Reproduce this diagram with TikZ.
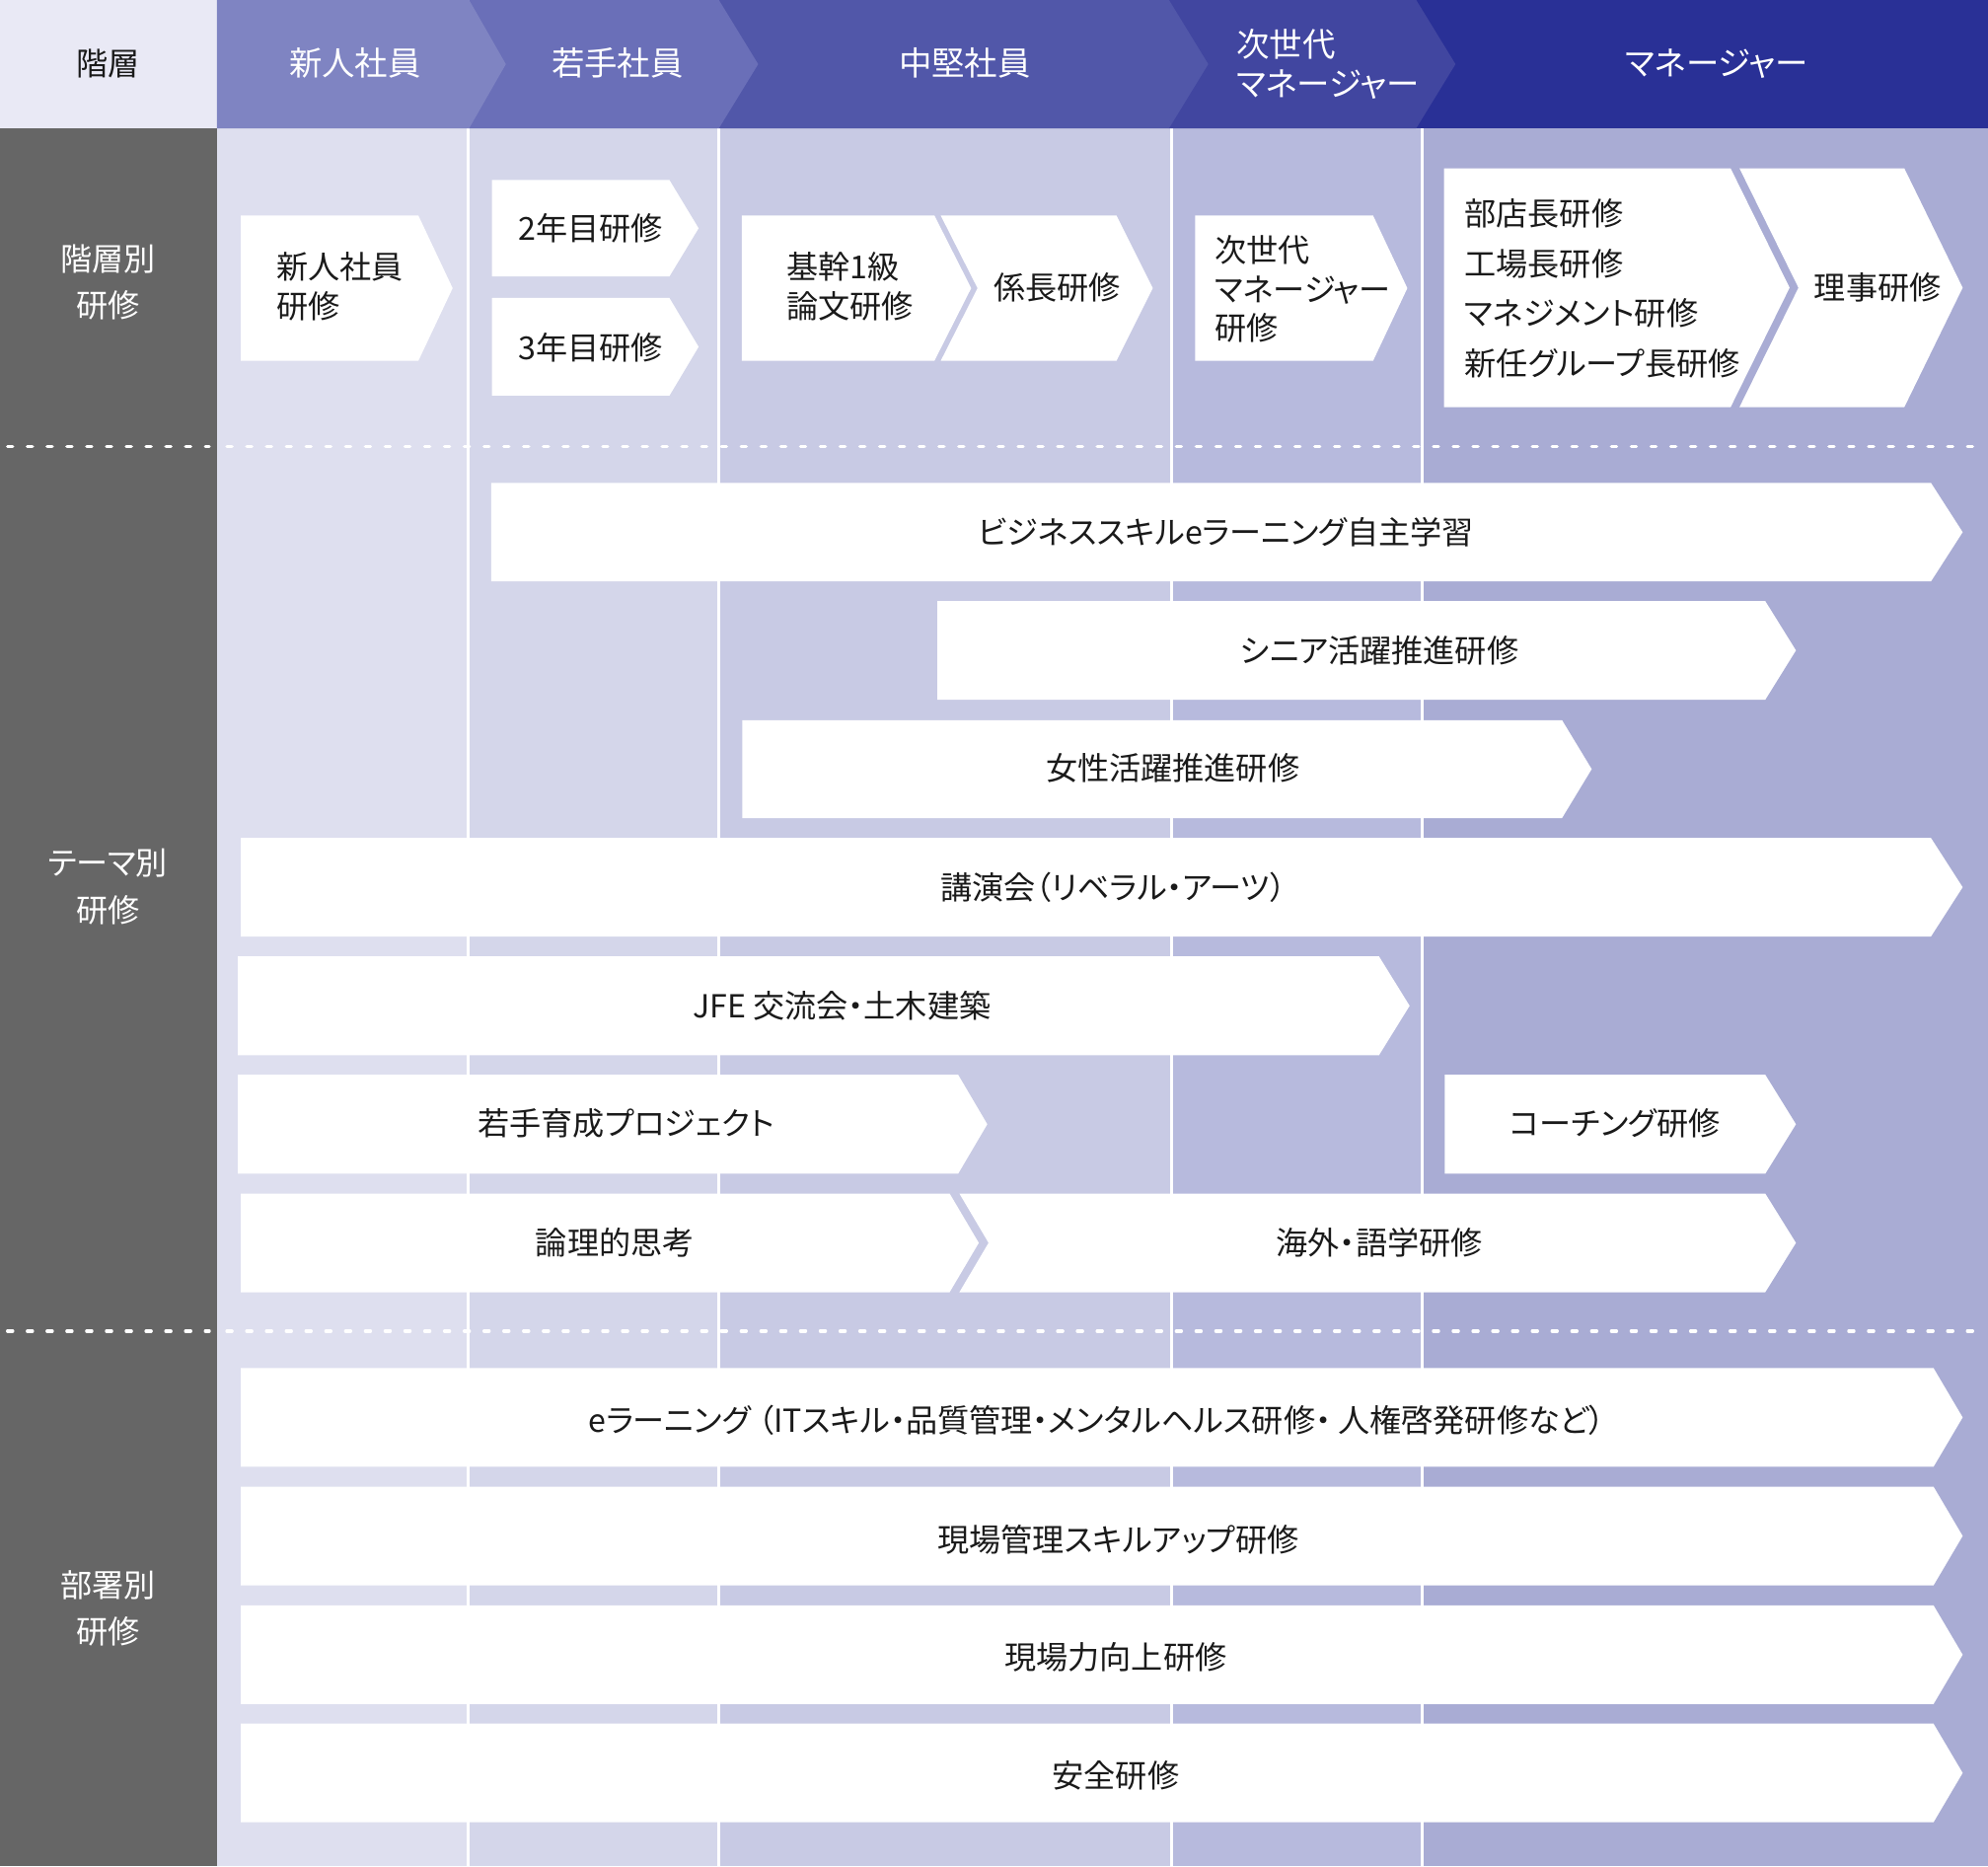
\documentclass[tikz,border=0pt]{standalone}
\usepackage{fontspec}
\setmainfont[RawFeature=+palt]{Noto Sans CJK JP}
\definecolor{hl0}{HTML}{E9E9F5}
\definecolor{hA}{HTML}{7F84C2}
\definecolor{hB}{HTML}{6A6FB8}
\definecolor{hC}{HTML}{5157A9}
\definecolor{hD}{HTML}{4146A0}
\definecolor{hE}{HTML}{293096}
\definecolor{gcol}{HTML}{666666}
\definecolor{cA}{HTML}{DEDFEF}
\definecolor{cB}{HTML}{D4D6EA}
\definecolor{cC}{HTML}{C8CAE4}
\definecolor{cD}{HTML}{B7BADD}
\definecolor{cE}{HTML}{A9ACD4}
\definecolor{tx}{HTML}{1A1A1A}
% #1 left x, #2 notch depth, #3 right x, #4 tip depth, #5 top y, #6 bottom y
\newcommand\abox[6]{\fill[white] (#1,#5) -- (#3,#5) -- (#3+#4,{(#5+#6)/2}) -- (#3,#6) -- (#1,#6) -- (#1+#2,{(#5+#6)/2}) -- cycle;}
\begin{document}
\begin{tikzpicture}[x=1pt,y=-1pt,
  lbl/.style={text=tx, font=\fontsize{25}{31}\selectfont, inner sep=0pt, align=center},
  lbll/.style={lbl, align=left, anchor=west},
  hd/.style={text=white, font=\fontsize{26}{31}\selectfont, inner sep=0pt, align=center},
  rl/.style={text=white, font=\fontsize{25}{37}\selectfont, inner sep=0pt, align=center},
  sep/.style={white, line width=2.5pt},
  dl/.style={white, line width=2.6pt, line cap=round, dash pattern=on 4pt off 11.6pt}]
\useasboundingbox (0,0) rectangle (1568,1471.6);
% body columns
\fill[gcol] (0,101.2) rectangle (171,1471.6);
\fill[cA] (171,101.2) rectangle (369,1471.6);
\fill[cB] (369,101.2) rectangle (567,1471.6);
\fill[cC] (567,101.2) rectangle (924,1471.6);
\fill[cD] (924,101.2) rectangle (1122,1471.6);
\fill[cE] (1122,101.2) rectangle (1568,1471.6);
\draw[sep] (369,101.2) -- (369,1471.6);
\draw[sep] (567,101.2) -- (567,1471.6);
\draw[sep] (924,101.2) -- (924,1471.6);
\draw[sep] (1122,101.2) -- (1122,1471.6);
% header
\fill[hl0] (0,0) rectangle (171,101.2);
\fill[hE] (1117,0) rectangle (1568,101.2);
\fill[hD] (922,0) -- (1117,0) -- (1148,50.6) -- (1117,101.2) -- (922,101.2) -- cycle;
\fill[hC] (567,0) -- (922,0) -- (953,50.6) -- (922,101.2) -- (567,101.2) -- cycle;
\fill[hB] (370,0) -- (567,0) -- (598,50.6) -- (567,101.2) -- (370,101.2) -- cycle;
\fill[hA] (171,0) -- (370,0) -- (399,50.6) -- (370,101.2) -- (171,101.2) -- cycle;
\node[lbl] (hk) at (85,50) {階層};
\node[hd] (h1) at (280,50) {新人社員};
\node[hd] (h2) at (487,50) {若手社員};
\node[hd] (h3) at (761,50) {中堅社員};
\node[hd, align=left, anchor=west] (h4) at (975,50.5) {次世代\\マネージャー};
\node[hd] (h5) at (1354,50) {マネージャー};
% dashed separators
\draw[dl] (6,352) -- (165,352);
\draw[dl] (179,352) -- (1560,352);
\draw[dl] (6,1049.6) -- (165,1049.6);
\draw[dl] (179,1049.6) -- (1560,1049.6);
% row labels
\node[rl] (r1) at (85,222.5) {階層別\\研修};
\node[rl] (r2) at (85,699.5) {テーマ別\\研修};
\node[rl] (r3) at (85,1268.5) {部署別\\研修};
% 階層別 boxes
\abox{190}{0}{330}{27}{170}{284.5}
\abox{388}{0}{528}{23}{142}{218}
\abox{388}{0}{528}{23}{235}{312}
\abox{585}{0}{737}{29}{170}{284.5}
\abox{742}{29}{880.6}{28.6}{170}{284.5}
\abox{942.7}{0}{1083}{27}{170}{284.5}
\abox{1139}{0}{1365}{46.5}{132.8}{321}
\abox{1372}{46.5}{1502}{46}{132.8}{321}
\node[lbll] (b1) at (218,226) {新人社員\\研修};
\node[lbl] (b2) at (466,180) {2年目研修};
\node[lbl] (b3) at (466,274) {3年目研修};
\node[lbll] (b4) at (620,226) {基幹1級\\論文研修};
\node[lbl] (b5) at (834,227) {係長研修};
\node[lbll] (b6) at (958,228) {次世代\\マネージャー\\研修};
\node[lbll, font=\fontsize{25}{39.5}\selectfont] (b7) at (1155,227.5) {部店長研修\\工場長研修\\マネジメント研修\\新任グループ長研修};
\node[lbl] (b8) at (1481,227) {理事研修};
% テーマ別 boxes
\abox{387.5}{0}{1523}{25}{380.8}{458.5}
\abox{739.3}{0}{1392.3}{24.2}{474}{551.8}
\abox{585.5}{0}{1232}{23.4}{567.9}{645.1}
\abox{190}{0}{1523}{25}{660.8}{738.5}
\abox{187.6}{0}{1087.6}{24.2}{754.1}{832.2}
\abox{187.6}{0}{755.7}{23}{847.5}{925.6}
\abox{1139.5}{0}{1392.3}{24.2}{847.5}{925.6}
\abox{190}{0}{749}{23}{941.2}{1019}
\abox{756.7}{23}{1392.3}{24.2}{941.2}{1019}
\node[lbl] (t1) at (967,420) {ビジネススキルeラーニング自主学習};
\node[lbl] (t2) at (1088,513) {シニア活躍推進研修};
\node[lbl] (t3) at (925,606) {女性活躍推進研修};
\node[lbl] (t4) at (878,700) {講演会（リベラル・アーツ）};
\node[lbl] (t5) at (664,793) {JFE 交流会・土木建築};
\node[lbl] (t6) at (494,886) {若手育成プロジェクト};
\node[lbl] (t7) at (1274,886) {コーチング研修};
\node[lbl] (t8) at (485,980) {論理的思考};
\node[lbl] (t9) at (1088,980) {海外・語学研修};
% 部署別 boxes
\abox{190}{0}{1525}{23}{1078.8}{1156.7}
\abox{190}{0}{1525}{23}{1172.3}{1250.2}
\abox{190}{0}{1525}{23}{1265.9}{1343.8}
\abox{190}{0}{1525}{23}{1359.2}{1437}
\node[lbl] (d1) at (865,1120) {eラーニング （ITスキル・品質管理・メンタルヘルス研修・ 人権啓発研修など）};
\node[lbl] (d2) at (882,1214) {現場管理スキルアップ研修};
\node[lbl] (d3) at (880,1307) {現場力向上研修};
\node[lbl] (d4) at (880,1400) {安全研修};
\end{tikzpicture}
\end{document}
